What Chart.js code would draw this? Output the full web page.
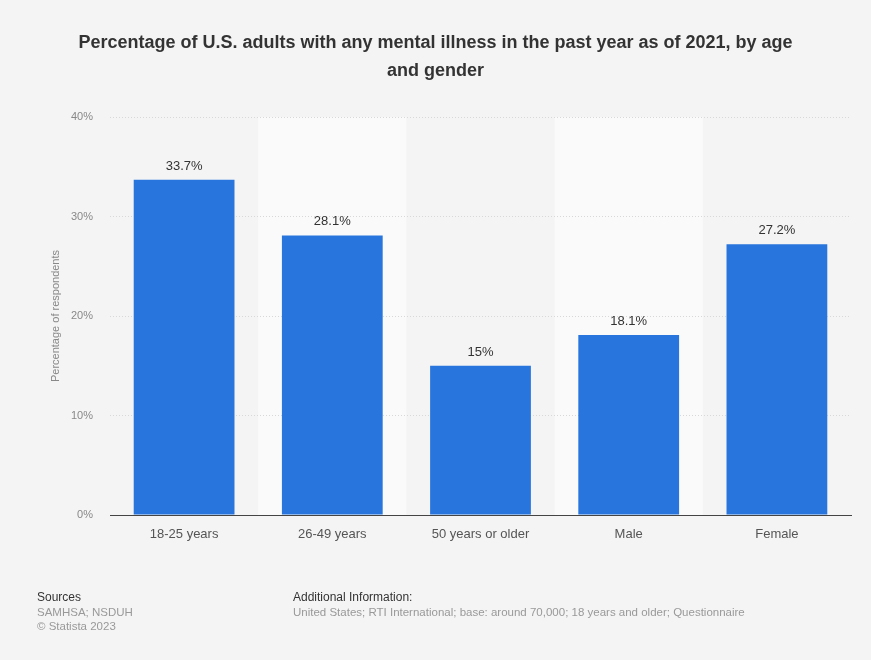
<!DOCTYPE html>
<html>
<head>
<meta charset="utf-8">
<script src="https://cdn.jsdelivr.net/npm/chart.js@4"></script>
<style>
  html, body { margin: 0; padding: 0; background: #f4f4f4; }
  #wrap { position: relative; width: 871px; height: 660px; font-family: "Liberation Sans", Arial, sans-serif; }
  #title { position: absolute; left: 60px; right: 60px; top: 28px; text-align: center; font-size: 18px; font-weight: bold; color: #333; line-height: 28px; }
  .foot { position: absolute; font-size: 11.5px; line-height: 14.5px; color: #999; }
  .foot b { font-weight: normal; color: #333; font-size: 12px; }
</style>
</head>
<body>
<div id="wrap">
  <canvas id="myChart" width="871" height="660"></canvas>
  <div id="title">Percentage of U.S. adults with any mental illness in the past year as of 2021, by age<br>and gender</div>
  <div class="foot" style="left:37px; top:590px;"><b>Sources</b><br>SAMHSA; NSDUH<br>© Statista 2023</div>
  <div class="foot" style="left:293px; top:590px;"><b>Additional Information:</b><br>United States; RTI International; base: around 70,000; 18 years and older; Questionnaire</div>
</div>
<script>
// Chart data
const categories = ['18-25 years', '26-49 years', '50 years or older', 'Male', 'Female'];
const values = [33.7, 28.1, 15, 18.1, 27.2];
const valueLabels = ['33.7%', '28.1%', '15%', '18.1%', '27.2%'];
const yTicks = [0, 10, 20, 30, 40];

// lighter bands behind every second category, drawn before the grid
const bandPlugin = {
    id: 'bands',
    beforeDraw(chart) {
        const { ctx, chartArea, scales } = chart;
        const x = scales.x;
        const step = x.width / categories.length;
        ctx.save();
        ctx.fillStyle = '#fafafa';
        categories.forEach((c, i) => {
            if (i % 2 === 1) {
                const cx = x.getPixelForValue(i);
                ctx.fillRect(cx - step / 2, chartArea.top, step, chartArea.bottom - chartArea.top);
            }
        });
        ctx.restore();
    }
};

// value labels above bars
const labelPlugin = {
    id: 'valueLabels',
    afterDatasetsDraw(chart) {
        const { ctx } = chart;
        const meta = chart.getDatasetMeta(0);
        ctx.save();
        ctx.font = '13px "Liberation Sans", Arial, sans-serif';
        ctx.fillStyle = '#333';
        ctx.textAlign = 'center';
        ctx.textBaseline = 'bottom';
        meta.data.forEach((bar, i) => {
            ctx.fillText(valueLabels[i], bar.x, bar.y - 7);
        });
        ctx.restore();
    }
};

const ctx = document.getElementById('myChart').getContext('2d');
const myChart = new Chart(ctx, {
    type: 'bar',
    data: {
        labels: categories,
        datasets: [{
            data: values,
            backgroundColor: '#2876dd',
            categoryPercentage: 1,
            barPercentage: 0.68
        }]
    },
    options: {
        responsive: false,
        animation: false,
        layout: { padding: { left: 40, right: 20, top: 117, bottom: 105 } },
        plugins: { legend: { display: false }, tooltip: { enabled: false } },
        scales: {
            x: {
                grid: { display: false },
                border: { color: '#444', width: 1 },
                ticks: { color: '#555', font: { size: 13, family: '"Liberation Sans", Arial, sans-serif' }, padding: 4 },
                afterFit(scale) { scale.height = 40; }
            },
            y: {
                min: 0,
                max: 40,
                afterBuildTicks(scale) { scale.ticks = yTicks.map(v => ({ value: v })); },
                grid: { color: '#d8d8d8', drawTicks: false },
                border: { display: false, dash: [1, 2] },
                ticks: {
                    color: '#888',
                    font: { size: 11, family: '"Liberation Sans", Arial, sans-serif' },
                    padding: 17,
                    callback: v => v + '%'
                },
                title: {
                    display: true,
                    text: 'Percentage of respondents',
                    color: '#888',
                    font: { size: 11, family: '"Liberation Sans", Arial, sans-serif' },
                    padding: { top: 9, bottom: 0 }
                },
                afterFit(scale) { scale.width = 70; }
            }
        }
    },
    plugins: [bandPlugin, labelPlugin]
});
</script>
</body>
</html>
